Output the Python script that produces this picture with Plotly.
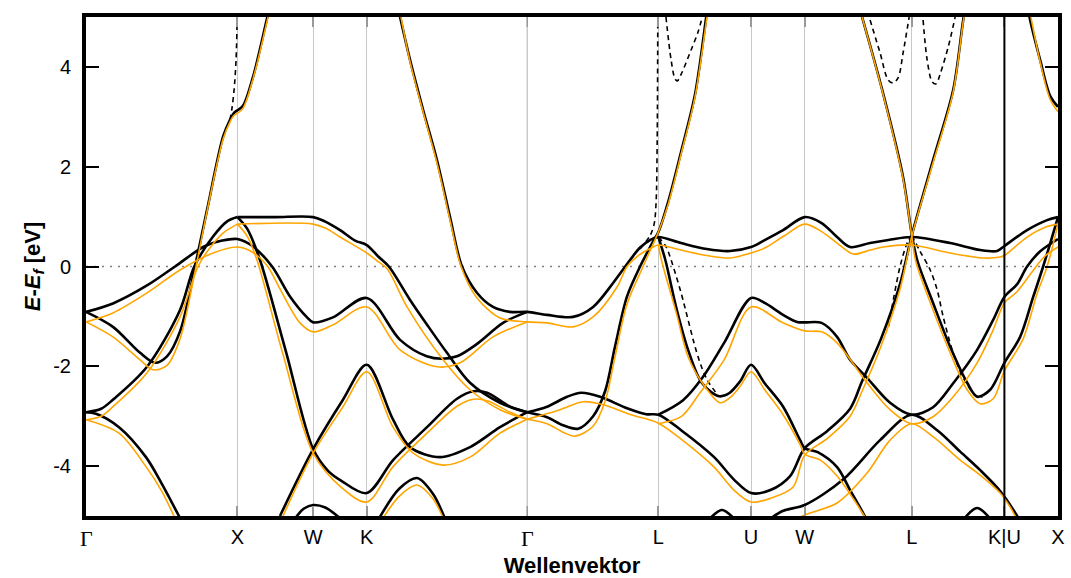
import plotly.graph_objects as go

# High-symmetry points along the fcc path (k in units of 2*pi/a)
k_ticks = [0.0, 1.0, 1.5, 1.854, 2.914, 3.780, 4.392, 4.746, 5.453, 6.065, 6.419]
k_labels = ["Γ", "X", "W", "K", "Γ", "L", "U", "W", "L", "K|U", "X"]
y_ticks = [-4, -2, 0, 2, 4]

# ---- black solid bands: (k, E - E_f) ----
bk1 = [(0, -0.91), (0.178, -0.74), (0.403, -0.38), (0.588, 0.0), (0.78, 0.4), (0.9, 0.52), (1.0, 0.55),
       (1.103, 0.40), (1.229, 0.0), (1.347, -0.6), (1.46, -1.02), (1.5, -1.12), (1.631, -1.02), (1.854, -0.63),
       (2.074, -1.47), (2.25, -1.8), (2.35, -1.85), (2.45, -1.8), (2.583, -1.55), (2.754, -1.13), (2.914, -0.91)]
bk2 = [(0, -0.91), (0.178, -1.21), (0.357, -1.73), (0.456, -1.93), (0.535, -1.8), (0.621, -1.3), (0.72, 0.0),
       (0.799, 1.13), (0.905, 2.6), (0.951, 2.94), (0.978, 3.08), (1.0, 3.13), (1.037, 3.22), (1.103, 3.8),
       (1.196, 4.98), (1.25, 5.7)]
bk3 = [(0, -2.92), (0.1, -2.85), (0.178, -2.67), (0.403, -2.01), (0.621, -0.87), (0.715, 0.0), (0.839, 0.6),
       (0.93, 0.9), (1.0, 0.99)]
bk4 = [(0, -2.92), (0.066, -2.95), (0.218, -3.22), (0.396, -3.82), (0.5, -4.35), (0.614, -5.0), (0.7, -5.5)]
bk5 = [(1.0, 0.99), (1.25, 0.99), (1.5, 0.99), (1.58, 0.9), (1.678, 0.73), (1.777, 0.52), (1.854, 0.43),
       (1.93, 0.2), (2.0, 0.0), (2.14, -0.67), (2.26, -1.2), (2.384, -1.73), (2.536, -2.33), (2.734, -2.73),
       (2.914, -2.92)]
bk6 = [(1.0, 0.99), (1.066, 0.75), (1.149, 0.13), (1.32, -1.7), (1.5, -3.66), (1.6, -4.1), (1.684, -4.29),
       (1.854, -4.54), (2.028, -3.88), (2.252, -3.22), (2.45, -2.65), (2.56, -2.5), (2.649, -2.53),
       (2.801, -2.81), (2.914, -2.92)]
bk7 = [(1.281, -5.0), (1.5, -3.66), (1.697, -2.67), (1.854, -1.97), (2.028, -3.07), (2.14, -3.62),
       (2.338, -3.82), (2.536, -3.62), (2.734, -3.22), (2.914, -2.92)]
bk8 = [(2.074, 5.0), (2.14, 4.14), (2.226, 3.14), (2.318, 2.13), (2.404, 0.99), (2.483, 0.0), (2.583, -0.53),
       (2.688, -0.81), (2.801, -0.91), (2.914, -0.91), (3.045, -0.97), (3.217, -1.01), (3.349, -0.81),
       (3.481, -0.33), (3.593, 0.13), (3.659, 0.38), (3.725, 0.53), (3.78, 0.59), (3.93, 0.47), (4.1, 0.35),
       (4.253, 0.31), (4.392, 0.39), (4.482, 0.53), (4.604, 0.73), (4.746, 0.99), (4.858, 0.87), (4.96, 0.59),
       (5.046, 0.39), (5.178, 0.47), (5.3, 0.53), (5.453, 0.59), (5.707, 0.47), (5.905, 0.33), (6.017, 0.31),
       (6.065, 0.41), (6.215, 0.73), (6.347, 0.93), (6.419, 0.99)]
bk9 = [(2.914, -2.92), (3.045, -2.81), (3.177, -2.61), (3.27, -2.53), (3.395, -2.61), (3.573, -2.84),
       (3.7, -2.96), (3.78, -2.97), (3.93, -3.28), (4.148, -3.82), (4.279, -4.27), (4.392, -4.54),
       (4.52, -4.48), (4.65, -4.2), (4.746, -3.64), (4.894, -3.3), (5.046, -2.85), (5.125, -2.3),
       (5.25, -1.45), (5.376, -0.35), (5.453, 0.62), (5.594, 2.13), (5.727, 3.54), (5.793, 4.94), (5.82, 5.4)]
bk10 = [(3.78, 0.59), (3.826, 0.13), (3.9, -0.85), (3.976, -1.67), (4.069, -2.34), (4.181, -2.6),
        (4.247, -2.54), (4.32, -2.3), (4.392, -1.97), (4.482, -2.34), (4.604, -2.81), (4.716, -3.48),
        (4.746, -3.64), (4.832, -3.72), (4.96, -4.02), (5.046, -4.48), (5.132, -4.94), (5.16, -5.1)]
bk11 = [(3.78, -2.97), (3.943, -2.68), (4.075, -2.21), (4.214, -1.53), (4.392, -0.63), (4.482, -0.73),
        (4.604, -0.97), (4.696, -1.11), (4.746, -1.12), (4.858, -1.13), (4.96, -1.41), (5.046, -1.87),
        (5.158, -2.23), (5.31, -2.73), (5.453, -2.97), (5.594, -2.82), (5.727, -2.34), (5.885, -1.67),
        (5.991, -1.07), (6.065, -0.61), (6.15, -0.35), (6.215, 0.0), (6.3, 0.3), (6.419, 0.55)]
bk12 = [(4.5, -5.1), (4.6, -4.9), (4.746, -4.78), (5.0, -4.27), (5.244, -3.48), (5.453, -2.97),
        (5.621, -3.28), (5.773, -3.71), (5.905, -4.08), (6.037, -4.5), (6.149, -5.0), (6.2, -5.3)]
bk13 = [(5.125, 5.0), (5.264, 3.47), (5.396, 1.79), (5.453, 0.65), (5.489, 0.13), (5.594, -0.73),
        (5.707, -1.61), (5.819, -2.33), (5.885, -2.61), (5.971, -2.47), (6.065, -1.93), (6.169, -1.41),
        (6.255, -0.61), (6.321, 0.0), (6.419, 0.99)]
bk14 = [(6.22, 5.2), (6.235, 4.94), (6.301, 4.14), (6.367, 3.42), (6.419, 3.2)]
bk15 = [(1.38, -5.05), (1.44, -4.85), (1.5, -4.78), (1.58, -4.83), (1.68, -5.05)]
bk16 = [(1.935, -5.05), (2.07, -4.45), (2.186, -4.24), (2.29, -4.55), (2.37, -5.05)]
bk17 = [(4.12, -5.05), (4.2, -4.88), (4.28, -5.05)]
bk18 = [(5.80, -5.05), (5.885, -4.84), (5.97, -5.05)]
bk19 = [(2.914, -2.92), (3.045, -3.02), (3.15, -3.18), (3.25, -3.25), (3.349, -3.0), (3.428, -2.5),
        (3.494, -1.6), (3.573, -0.6), (3.659, 0.0), (3.745, 0.5), (3.78, 0.69), (3.845, 1.3), (3.93, 2.3),
        (4.022, 3.45), (4.095, 4.98), (4.11, 5.3)]

# ---- black dashed bands (where they differ from the solid set) ----
dk1 = [(0.951, 2.94), (0.964, 3.17), (0.978, 3.54), (0.991, 4.14), (0.998, 4.94), (1.0, 5.3)]
dk2 = [(3.659, 0.35), (3.725, 0.62), (3.752, 0.85), (3.765, 1.3), (3.772, 2.5), (3.776, 5.0)]
dk3 = [(3.83, 5.0), (3.864, 4.14), (3.89, 3.76), (3.905, 3.72), (3.93, 3.85), (3.996, 4.34), (4.042, 4.7),
       (4.07, 5.0)]
dk4 = [(5.178, 4.94), (5.244, 4.28), (5.297, 3.74), (5.33, 3.68), (5.363, 3.78), (5.396, 4.28), (5.436, 5.0)]
dk5 = [(5.528, 4.94), (5.555, 4.14), (5.588, 3.7), (5.614, 3.66), (5.641, 3.86), (5.694, 4.4), (5.74, 5.0)]
dk6 = [(3.78, 0.59), (3.83, 0.4), (3.864, 0.13), (3.93, -0.53), (4.042, -1.81), (4.102, -2.27), (4.181, -2.61)]
dk7 = [(5.453, 0.62), (5.509, 0.3), (5.575, -0.07), (5.621, -0.47), (5.661, -1.01), (5.72, -1.67),
       (5.76, -2.01), (5.806, -2.3), (5.872, -2.58), (5.92, -2.62)]
dk8 = [(5.3, -1.2), (5.376, 0.0), (5.423, 0.47), (5.453, 0.62)]

# ---- orange bands ----
or1 = [(0, -1.11), (0.178, -0.93), (0.403, -0.53), (0.621, -0.07), (0.839, 0.27), (1.0, 0.39), (1.103, 0.28),
       (1.2, 0.0), (1.281, -0.45), (1.413, -1.13), (1.5, -1.31), (1.631, -1.17), (1.854, -0.81),
       (2.074, -1.67), (2.318, -2.01), (2.47, -1.93), (2.688, -1.41), (2.914, -1.11)]
or2 = [(0, -1.11), (0.178, -1.41), (0.357, -1.87), (0.443, -2.07), (0.535, -1.98), (0.621, -1.45),
       (0.72, -0.1), (0.799, 1.1), (0.905, 2.55), (0.951, 2.9), (0.978, 3.03), (1.0, 3.07), (1.037, 3.17),
       (1.103, 3.76), (1.202, 5.0), (1.25, 5.7)]
or3 = [(0, -3.07), (0.1, -3.0), (0.178, -2.81), (0.403, -2.13), (0.621, -1.01), (0.74, 0.0), (0.82, 0.38),
       (0.905, 0.67), (1.0, 0.85)]
or4 = [(0, -3.07), (0.218, -3.34), (0.396, -4.01), (0.5, -4.5), (0.581, -5.0), (0.65, -5.45)]
or5 = [(1.0, 0.85), (1.5, 0.85), (1.58, 0.77), (1.678, 0.59), (1.854, 0.27), (1.92, 0.12), (1.99, -0.05),
       (2.12, -0.81), (2.358, -1.87), (2.536, -2.47), (2.734, -2.87), (2.914, -3.06)]
or6 = [(1.0, 0.85), (1.066, 0.6), (1.129, 0.13), (1.3, -1.75), (1.5, -3.74), (1.684, -4.42), (1.854, -4.72),
       (2.028, -4.01), (2.252, -3.34), (2.45, -2.8), (2.56, -2.66), (2.649, -2.69), (2.801, -2.92),
       (2.914, -3.06)]
or7 = [(1.301, -5.0), (1.5, -3.74), (1.697, -2.81), (1.854, -2.11), (2.028, -3.22), (2.16, -3.74),
       (2.358, -3.98), (2.536, -3.82), (2.734, -3.34), (2.914, -3.06)]
or8 = [(2.08, 5.0), (2.14, 4.1), (2.226, 3.1), (2.318, 2.07), (2.404, 0.93), (2.477, 0.0), (2.577, -0.61),
       (2.734, -1.03), (2.914, -1.11), (3.045, -1.13), (3.217, -1.21), (3.349, -1.01), (3.507, -0.41),
       (3.573, 0.0), (3.639, 0.2), (3.745, 0.39), (3.78, 0.43), (3.93, 0.33), (4.1, 0.22), (4.253, 0.17),
       (4.392, 0.27), (4.482, 0.37), (4.604, 0.6), (4.746, 0.85), (4.858, 0.7), (4.96, 0.47), (5.066, 0.25),
       (5.18, 0.33), (5.264, 0.39), (5.453, 0.43), (5.707, 0.27), (5.925, 0.17), (6.037, 0.19),
       (6.065, 0.22), (6.215, 0.59), (6.347, 0.8), (6.419, 0.85)]
or9 = [(2.914, -3.06), (3.131, -2.87), (3.283, -2.71), (3.415, -2.77), (3.6, -2.97), (3.78, -3.14),
       (3.93, -3.46), (4.148, -4.02), (4.279, -4.48), (4.392, -4.72), (4.525, -4.64), (4.67, -4.42),
       (4.746, -3.78), (4.894, -3.45), (5.046, -3.0), (5.125, -2.5), (5.25, -1.6), (5.376, -0.45),
       (5.453, 0.6), (5.594, 2.08), (5.727, 3.5), (5.793, 4.9), (5.82, 5.35)]
or10 = [(3.78, 0.43), (3.8, 0.13), (3.9, -0.95), (3.976, -1.81), (4.069, -2.33), (4.187, -2.73),
        (4.253, -2.63), (4.32, -2.4), (4.392, -2.11), (4.482, -2.47), (4.604, -2.97), (4.716, -3.57),
        (4.746, -3.76), (4.85, -3.88), (4.96, -4.2), (5.066, -4.65), (5.14, -5.0), (5.2, -5.3)]
or11 = [(3.78, -3.15), (3.93, -3.01), (4.055, -2.53), (4.214, -1.87), (4.392, -0.81), (4.604, -1.13),
        (4.746, -1.29), (4.858, -1.31), (4.96, -1.53), (5.158, -2.33), (5.31, -2.87), (5.453, -3.15),
        (5.594, -3.01), (5.727, -2.61), (5.885, -1.93), (5.991, -1.27), (6.065, -0.73), (6.15, -0.5),
        (6.25, -0.1), (6.33, 0.2), (6.419, 0.39)]
or12 = [(4.6, -5.2), (4.746, -4.98), (4.96, -4.74), (5.158, -4.14), (5.31, -3.48), (5.453, -3.15),
        (5.594, -3.41), (5.773, -3.88), (5.905, -4.18), (6.037, -4.54), (6.103, -4.82), (6.136, -5.0),
        (6.2, -5.4)]
or13 = [(5.125, 5.0), (5.264, 3.45), (5.396, 1.75), (5.453, 0.62), (5.48, 0.1), (5.594, -0.87),
        (5.707, -1.73), (5.819, -2.47), (5.905, -2.75), (5.991, -2.65), (6.065, -2.09), (6.189, -1.45),
        (6.28, -0.55), (6.347, 0.0), (6.419, 0.85)]
or14 = [(6.24, 5.0), (6.301, 4.1), (6.367, 3.35), (6.419, 3.1)]
or15 = [(1.96, -5.05), (2.07, -4.6), (2.186, -4.38), (2.29, -4.65), (2.36, -5.05)]
or16 = [(2.914, -3.06), (3.045, -3.15), (3.15, -3.32), (3.23, -3.4), (3.349, -3.2), (3.428, -2.7),
        (3.494, -1.8), (3.573, -0.75), (3.679, 0.0), (3.745, 0.45), (3.78, 0.69), (3.845, 1.25), (3.93, 2.25),
        (4.022, 3.4), (4.1, 4.98), (4.115, 5.3)]

black_bands = [bk1, bk2, bk3, bk4, bk5, bk6, bk7, bk8, bk9, bk10, bk11, bk12, bk13, bk14,
               bk15, bk16, bk17, bk18, bk19]
dashed_bands = [dk1, dk2, dk3, dk4, dk5, dk6, dk7, dk8]
orange_bands = [or1, or2, or3, or4, or5, or6, or7, or8, or9, or10, or11, or12, or13, or14, or15, or16]


def joined(bands):
    xs, ys = [], []
    for band in bands:
        for k, e in band:
            xs.append(k)
            ys.append(e)
        xs.append(None)
        ys.append(None)
    return xs, ys


fig = go.Figure()

bx, by = joined(black_bands)
fig.add_trace(go.Scatter(x=bx, y=by, mode="lines", line=dict(color="black", width=2.6, shape="spline",
                         smoothing=0.9), hoverinfo="skip", showlegend=False))
dx, dy = joined(dashed_bands)
fig.add_trace(go.Scatter(x=dx, y=dy, mode="lines", line=dict(color="black", width=1.6, dash="5px,4px",
                         shape="spline", smoothing=0.9), hoverinfo="skip", showlegend=False))
ox, oy = joined(orange_bands)
fig.add_trace(go.Scatter(x=ox, y=oy, mode="lines", line=dict(color="#FFA500", width=1.6, shape="spline",
                         smoothing=0.9), hoverinfo="skip", showlegend=False))

# Γ points are labelled in a serif face; the other labels come from the axis ticks
gamma_idx = [i for i, lab in enumerate(k_labels) if lab == "Γ"]
sans_vals = [k for i, k in enumerate(k_ticks) if i not in gamma_idx]
sans_text = [lab for i, lab in enumerate(k_labels) if i not in gamma_idx]
tick_depth = 0.2  # length of the small gray tick marks, in eV
for i in gamma_idx:
    fig.add_annotation(x=k_ticks[i], xref="x", y=0, yref="paper", yshift=-22, yanchor="middle",
                       text=k_labels[i], showarrow=False,
                       font=dict(family="Liberation Serif, Times New Roman, serif", size=22, color="black"))
    if 0 < i < len(k_ticks) - 1:
        fig.add_shape(type="line", xref="x", yref="y", x0=k_ticks[i], x1=k_ticks[i], y0=-5, y1=5,
                      line=dict(color="#c8c8c8", width=1.4), layer="below")
        for y0, y1 in ((-5, -5 + tick_depth), (5 - tick_depth, 5)):
            fig.add_shape(type="line", xref="x", yref="y", x0=k_ticks[i], x1=k_ticks[i], y0=y0, y1=y1,
                          line=dict(color="#999999", width=1.5), layer="below")

# Fermi level
fig.add_shape(type="line", xref="x", yref="y", x0=k_ticks[0], x1=k_ticks[-1], y0=0, y1=0,
              line=dict(color="#808080", width=1.6, dash="2px,6px"), layer="below")
# K|U discontinuity
fig.add_shape(type="line", xref="x", yref="y", x0=k_ticks[9], x1=k_ticks[9], y0=-5, y1=5,
              line=dict(color="black", width=2))

fig.update_layout(
    width=1071, height=578,
    margin=dict(l=86, r=13, t=17, b=62),
    paper_bgcolor="white", plot_bgcolor="white",
    font=dict(family="Liberation Sans, Arial, sans-serif", color="black"),
)
fig.update_xaxes(
    range=[k_ticks[0], k_ticks[-1]], tickvals=sans_vals, ticktext=sans_text,
    tickfont=dict(size=20), ticks="inside", ticklen=10, tickwidth=1.5, tickcolor="#999999",
    showgrid=True, gridcolor="#c8c8c8", gridwidth=1.4, zeroline=False,
    showline=True, linecolor="black", linewidth=4, mirror="ticks",
    ticklabelstandoff=0, automargin=False,
    title=dict(text="<b>Wellenvektor</b>", font=dict(size=22), standoff=12),
)
fig.update_yaxes(
    range=[-5, 5], tickvals=y_ticks, ticktext=[str(v) for v in y_ticks],
    tickfont=dict(size=20), ticks="inside", ticklen=13, tickwidth=1.5, tickcolor="black",
    showgrid=False, zeroline=False,
    showline=True, linecolor="black", linewidth=4, mirror="ticks",
    ticklabelstandoff=7, automargin=False,
    title=dict(text="<b><i>E</i>-<i>E<sub>f</sub></i> [eV]</b>", font=dict(size=22), standoff=8),
)

fig.write_html("out.html")
